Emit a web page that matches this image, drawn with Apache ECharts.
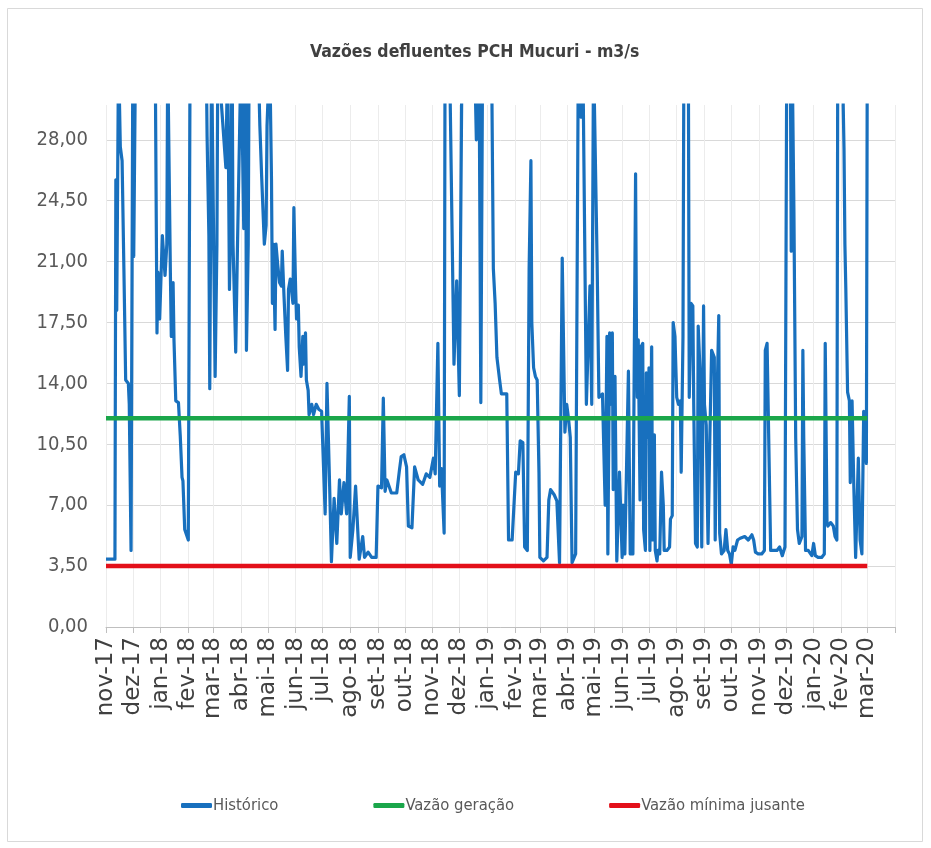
<!DOCTYPE html>
<html>
<head>
<meta charset="utf-8">
<script src="https://cdn.jsdelivr.net/npm/echarts@6/dist/echarts.min.js"></script>
<style>
html,body{margin:0;padding:0;background:#fff;}
#chart{width:931px;height:848px;}
</style>
</head>
<body>
<div id="chart"></div>
<script>
// ---- data ----
const startDate = [2017, 10, 1];      // 1 Nov 2017 (month 0-based)
const dayCount = 883;                 // through 1 Apr 2020
const monthNames = ['jan','fev','mar','abr','mai','jun','jul','ago','set','out','nov','dez'];

// Histórico: day offset from 1 Nov 2017 and flow (m3/s); values above the axis top are clipped
const histDays = [0,10,11,12,13,14,15,16,18,20,22,25,26,28,30,31,33,55,57,58,60,63,65,66,68,69,71,72,73,75,76,78,81,83,85,86,88,90,92,94,
112,113,115,116,118,120,122,124,125,134,136,138,139,141,142,144,145,147,149,151,153,154,156,157,159,160,170,172,174,177,179,180,182,183,185,186,187,189,190,192,194,196,197,199,
201,203,204,206,209,210,212,213,215,216,218,220,221,223,224,226,227,230,232,235,238,241,243,245,247,250,252,255,258,261,263,266,269,272,273,276,279,283,287,289,293,297,
302,304,308,310,312,314,319,325,328,330,333,336,338,342,345,349,354,358,362,366,368,371,373,375,378,379,384,389,392,395,398,412,414,417,419,421,431,433,435,437,440,442,448,
450,454,456,458,461,463,466,468,471,473,475,476,478,480,482,484,485,489,493,495,497,501,504,507,509,510,512,513,515,517,519,521,523,525,528,531,533,537,541,543,545,547,549,
551,553,555,558,560,561,563,564,566,567,569,571,574,577,578,580,584,586,589,592,593,594,595,597,598,600,601,603,604,606,607,608,610,611,613,614,616,617,619,621,623,624,627,
630,631,633,634,636,638,640,642,643,645,646,651,652,654,656,657,659,661,662,664,666,668,669,671,673,675,677,680,681,683,685,686,688,691,693,695,697,699,
701,703,706,709,714,718,722,724,726,729,733,736,737,739,741,743,746,750,753,756,759,761,765,766,767,769,771,773,775,778,779,780,782,785,789,791,793,796,
800,803,804,806,807,810,813,815,817,818,823,825,826,827,829,831,832,834,836,838,841,843,845,847,848,850,851];
const histValues = [3.9,3.9,25.7,18.2,25.5,33,33,27.6,26.8,20.6,14.2,14.0,12.8,4.4,33,21.3,33,33,16.9,20.4,17.7,22.5,22.6,20.2,22.0,33,33,20.2,16.7,19.8,16.5,13.0,12.9,11.0,8.6,8.4,5.6,5.3,5.0,33,
33,28.2,22.5,13.7,33,33,14.4,22.0,33,26.4,33,19.4,22.2,33,22.0,17.9,15.8,22.0,22.0,33,33,22.9,33,15.9,22.0,33,33,28.8,25.9,22.0,23.1,28.8,28.8,33,25.7,18.6,22.0,17.1,22.0,20.8,19.8,19.6,21.6,19.0,
16.7,14.75,19.4,20.0,18.6,24.1,19.4,17.7,18.5,16.1,14.4,16.7,15.1,16.9,14.2,13.6,12.2,12.8,12.2,12.8,12.5,12.4,12.4,6.5,14.0,8.1,3.75,7.4,4.8,8.45,6.5,8.3,6.5,13.25,4.0,5.6,8.1,3.9,5.2,4.0,4.3,4.0,
4.0,8.1,8.0,13.15,7.8,8.45,7.7,7.7,9.0,9.8,9.9,9.2,5.8,5.7,9.2,8.45,8.2,8.8,8.6,9.7,8.8,16.3,8.1,9.1,5.4,33,33,15.1,19.9,13.3,33,33,28.0,33,12.9,33,33,20.6,18.6,15.5,14.2,13.4,13.4,
5.0,5.0,5.1,8.9,8.8,10.7,10.6,4.6,4.4,20.6,26.8,17.5,14.9,14.4,14.2,8.9,4.0,3.8,4.0,7.3,7.9,7.6,7.25,3.7,3.8,21.2,21.2,11.2,12.8,12.0,10.9,3.7,3.8,4.2,33,29.3,33,12.8,19.6,12.8,33,33,21.0,
13.2,13.2,13.4,7.0,16.7,4.2,16.9,12.8,16.9,7.9,14.4,3.8,8.9,4.0,7.0,4.2,14.7,4.2,4.2,26.05,16.7,13.2,16.5,7.3,16.1,16.3,5.6,4.4,14.6,10.9,14.9,4.4,16.1,5.0,11.05,4.4,3.8,4.4,4.2,8.9,7.0,4.4,4.4,
4.6,6.2,6.4,17.5,16.7,13.2,12.8,13.0,8.9,16.7,33,33,13.2,18.6,18.45,12.8,4.8,4.6,17.3,14.75,4.6,18.45,12.8,11.6,4.8,10.85,15.9,15.5,5.0,12.8,17.9,5.4,4.2,4.4,5.6,4.4,4.2,3.6,
4.6,4.4,5.0,5.1,5.2,5.0,5.3,5.0,4.3,4.2,4.2,4.4,15.9,16.3,16.3,4.4,4.4,4.4,4.6,4.1,4.6,33,33,21.6,33,23.9,10.85,5.6,4.8,5.2,15.9,10.85,4.4,4.4,4.1,4.8,4.1,4.0,
4.0,4.2,16.3,6.0,5.8,6.0,5.8,5.2,5.0,33,33,27.5,22.0,19.5,13.5,13.0,8.3,13.0,8.0,4.0,9.7,5.0,4.2,12.4,12.5,9.4,33];

// Constant reference flows
const refDays = [0, 851];
const geracaoValues = [12, 12];        // Vazão geração
const minimaValues = [3.5, 3.5];       // Vazão mínima jusante

const yTicks = {min: 0, max: 30, interval: 3.5};

// ---- build ----
const categories = [];
for (let i = 0; i < dayCount; i++) {
  const d = new Date(Date.UTC(startDate[0], startDate[1], startDate[2] + i));
  const s = d.getUTCFullYear() + '-' + String(d.getUTCMonth() + 1).padStart(2, '0') + '-' + String(d.getUTCDate()).padStart(2, '0');
  categories.push(s);
}
const isMonthStart = (idx, val) => String(val).slice(8) === '01';
const pairs = (xs, ys) => xs.map((x, i) => [x, ys[i]]);

const narrow = "'Liberation Sans Narrow', 'DejaVu Sans Condensed', 'Roboto Condensed', 'Liberation Sans', sans-serif";

const chart = echarts.init(document.getElementById('chart'), null, {renderer: 'canvas'});
chart.setOption({
  backgroundColor: '#ffffff',
  animation: false,
  title: {
    text: 'Vazões defluentes PCH Mucuri - m3/s',
    left: 310,
    top: 38,
    padding: 0,
    textStyle: {fontFamily: narrow, fontSize: 17.5, fontWeight: 'bold', color: '#404040', lineHeight: 28}
  },
  graphic: [{
    type: 'rect', silent: true, z: -1,
    shape: {x: 7.5, y: 8.5, width: 915, height: 833},
    style: {fill: 'none', stroke: '#d9d9d9', lineWidth: 1}
  }],
  legend: {
    left: 176,
    top: 792,
    itemWidth: 31,
    itemHeight: 5,
    itemGap: 95,
    icon: 'roundRect',
    textStyle: {fontFamily: narrow, fontSize: 16.5, color: '#595959', padding: [0, 0, 0, -4]},
    data: ['Histórico', 'Vazão geração', 'Vazão mínima jusante']
  },
  grid: {left: 106, right: 36, top: 105, bottom: 221, containLabel: false},
  xAxis: {
    type: 'category',
    data: categories,
    boundaryGap: false,
    axisLine: {show: true, lineStyle: {color: '#bfbfbf', width: 1}},
    axisTick: {show: true, length: 6, interval: isMonthStart, lineStyle: {color: '#bfbfbf'}},
    splitLine: {show: true, interval: isMonthStart, lineStyle: {color: '#ececec', width: 1}},
    axisLabel: {
      interval: (idx, val) => isMonthStart(idx, val) && idx < dayCount - 1,
      rotate: 90,
      margin: 10,
      fontFamily: "'DejaVu Sans', sans-serif",
      fontSize: 23,
      color: '#404040',
      formatter: (val) => {
        const m = parseInt(val.slice(5, 7), 10) - 1;
        return monthNames[m] + '-' + val.slice(2, 4);
      }
    }
  },
  yAxis: {
    type: 'value',
    min: yTicks.min,
    max: yTicks.max,
    interval: yTicks.interval,
    axisLine: {show: false},
    axisTick: {show: false},
    splitLine: {show: true, showMaxLine: false, lineStyle: {color: '#d9d9d9', width: 1}},
    axisLabel: {
      showMaxLabel: false,
      margin: 18,
      fontFamily: narrow,
      fontSize: 20,
      color: '#595959',
      formatter: (v) => v.toFixed(2).replace('.', ',')
    }
  },
  series: [
    {
      name: 'Histórico', type: 'line', data: pairs(histDays, histValues),
      symbol: 'none', clip: true,
      lineStyle: {color: '#1870be', width: 3.2, join: 'round'},
      itemStyle: {color: '#1870be'}
    },
    {
      name: 'Vazão geração', type: 'line', data: pairs(refDays, geracaoValues),
      symbol: 'none',
      lineStyle: {color: '#1aa64a', width: 4.5},
      itemStyle: {color: '#1aa64a'}
    },
    {
      name: 'Vazão mínima jusante', type: 'line', data: pairs(refDays, minimaValues),
      symbol: 'none',
      lineStyle: {color: '#e3101a', width: 4.5},
      itemStyle: {color: '#e3101a'}
    }
  ]
});
</script>
</body>
</html>
